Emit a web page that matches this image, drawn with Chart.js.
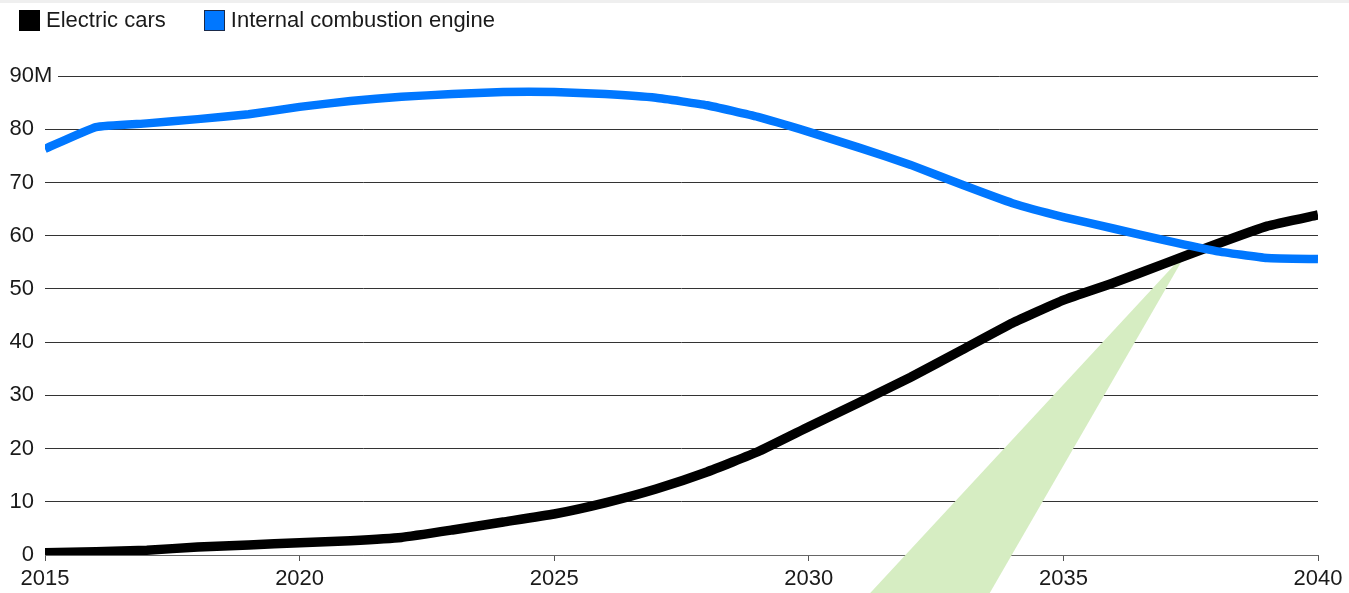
<!DOCTYPE html>
<html>
<head>
<meta charset="utf-8">
<script src="https://cdn.jsdelivr.net/npm/chart.js@4.4.0/dist/chart.umd.min.js"></script>
<style>
  html, body { margin: 0; padding: 0; background: #fff; }
  body { width: 1349px; height: 593px; position: relative; overflow: hidden; font-family: "Liberation Sans", Arial, sans-serif; }
  .topbar { position: absolute; left: 0; top: 0; width: 100%; height: 3px; background: #efefef; }
  #legend { position: absolute; left: 19px; top: 7px; display: flex; align-items: center; font-size: 22px; color: #1a1a1a; z-index: 2; }
  #legend .item { display: flex; align-items: center; margin-right: 38px; }
  #legend .sw { width: 21px; height: 21px; box-sizing: border-box; margin-right: 6px; }
  #wrap { position: absolute; left: 0; top: 0; width: 1349px; height: 593px; }
</style>
</head>
<body>
<div class="topbar"></div>
<div id="legend"></div>
<div id="wrap"><canvas id="chart"></canvas></div>
<script>
const years = [2015, 2016, 2017, 2018, 2019, 2020, 2021, 2022, 2023, 2024, 2025, 2026, 2027,
               2028, 2029, 2030, 2031, 2032, 2033, 2034, 2035, 2036, 2037, 2038, 2039, 2040];
const electricCars = [0.4, 0.6, 0.9, 1.5, 1.9, 2.3, 2.7, 3.3, 4.7, 6.2, 7.7, 9.8, 12.4,
                      15.6, 19.4, 24.1, 28.7, 33.4, 38.5, 43.6, 47.9, 51.2, 54.8, 58.4, 61.8, 63.9];
const iceCars = [76.3, 80.4, 81.1, 81.9, 82.8, 84.2, 85.3, 86.1, 86.6, 87.0, 87.0, 86.6, 85.9,
                 84.5, 82.3, 79.5, 76.5, 73.3, 69.6, 66.1, 63.5, 61.3, 59.1, 57.1, 55.8, 55.6];
const yTicks = [0, 10, 20, 30, 40, 50, 60, 70, 80, 90];
const xTicks = [2015, 2020, 2025, 2030, 2035, 2040];

const seriesNames = ['Electric cars', 'Internal combustion engine'];
const seriesColors = ['#000000', '#0077ff'];
const swatchBorders = ['#000000', '#1a2a4a'];

// callout pointer (green wedge) in data coordinates
const calloutTip = { x: 2037.45, y: 57.3 };
const calloutBase = [{ x: 2031.2, y: -7.2 }, { x: 2033.55, y: -7.2 }];

const legendEl = document.getElementById('legend');
seriesNames.forEach((name, i) => {
  const item = document.createElement('div');
  item.className = 'item';
  item.innerHTML = '<span class="sw" style="background:' + seriesColors[i] +
    ';border:1px solid ' + swatchBorders[i] + '"></span><span>' + name + '</span>';
  legendEl.appendChild(item);
});

const FONT = '"Liberation Sans", Arial, sans-serif';

const calloutPlugin = {
  id: 'callout',
  beforeDatasetsDraw(chart) {
    const { ctx, scales: { x, y } } = chart;
    ctx.save();
    ctx.fillStyle = '#d6edc2';
    ctx.beginPath();
    ctx.moveTo(x.getPixelForValue(calloutTip.x), y.getPixelForValue(calloutTip.y));
    calloutBase.forEach(p => ctx.lineTo(x.getPixelForValue(p.x), y.getPixelForValue(p.y)));
    ctx.closePath();
    ctx.fill();

    // unit suffix after the top tick label
    const top = yTicks[yTicks.length - 1];
    const py = y.getPixelForValue(top);
    ctx.font = '22px ' + FONT;
    ctx.fillStyle = '#fff';
    ctx.fillRect(x.left - 11, py - 3, 24, 6);
    ctx.fillStyle = '#1a1a1a';
    ctx.textAlign = 'left';
    ctx.textBaseline = 'middle';
    ctx.fillText('M', x.left - 11, py);
    ctx.restore();
  }
};

new Chart(document.getElementById('chart'), {
  type: 'line',
  data: {
    datasets: [
      {
        label: seriesNames[0],
        data: years.map((yr, i) => ({ x: yr, y: electricCars[i] })),
        borderColor: seriesColors[0],
        borderWidth: 9.5,
        pointRadius: 0,
        tension: 0.12,
        order: 1
      },
      {
        label: seriesNames[1],
        data: years.map((yr, i) => ({ x: yr, y: iceCars[i] })),
        borderColor: seriesColors[1],
        borderWidth: 8.5,
        pointRadius: 0,
        tension: 0.12,
        order: 0
      }
    ]
  },
  options: {
    responsive: true,
    maintainAspectRatio: false,
    animation: false,
    layout: { padding: { top: 76, right: 31, left: 0, bottom: 0 } },
    plugins: { legend: { display: false }, tooltip: { enabled: false } },
    scales: {
      x: {
        type: 'linear',
        min: 2015,
        max: 2040,
        afterBuildTicks: axis => { axis.ticks = xTicks.map(v => ({ value: v })); },
        afterFit: axis => { axis.height = 38; },
        grid: { drawOnChartArea: false, drawTicks: true, tickLength: 6, tickColor: '#555', lineWidth: 1 },
        border: { display: true, color: '#666', width: 1 },
        ticks: {
          callback: v => String(v),
          font: { family: FONT, size: 22 },
          color: '#1a1a1a',
          padding: 5,
          maxRotation: 0
        }
      },
      y: {
        min: 0,
        max: 90,
        afterBuildTicks: axis => { axis.ticks = yTicks.map(v => ({ value: v })); },
        afterFit: axis => { axis.width = 45; },
        grid: {
          drawTicks: false,
          color: ctx => (ctx.tick && ctx.tick.value === 0 ? '#666' : '#333'),
          lineWidth: 1
        },
        border: { display: false },
        ticks: {
          font: { family: FONT, size: 22 },
          color: '#1a1a1a',
          padding: 11
        }
      }
    }
  },
  plugins: [calloutPlugin]
});
</script>
</body>
</html>
